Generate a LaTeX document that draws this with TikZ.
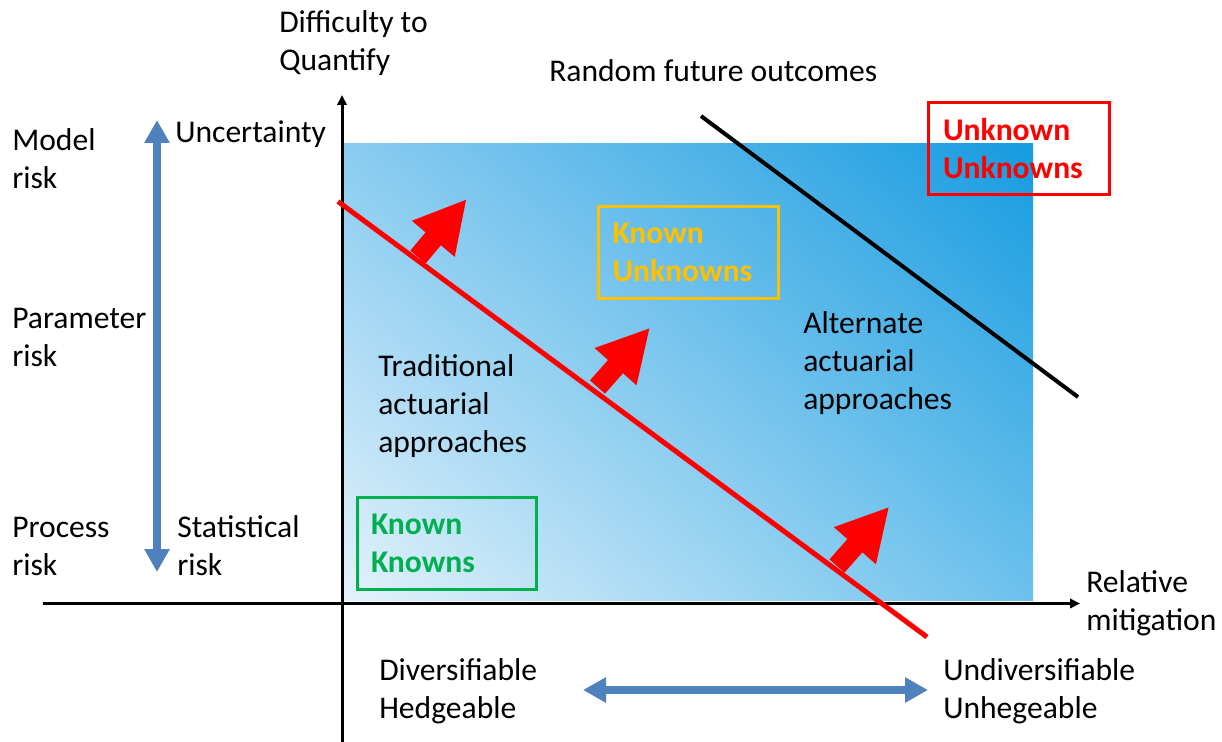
\documentclass[tikz,border=0pt]{standalone}
\usepackage{fontspec}
\setmainfont{Carlito}
\usetikzlibrary{arrows.meta,shadings}
\definecolor{axblue}{RGB}{79,129,189}
\definecolor{kgreen}{RGB}{0,176,80}
\definecolor{korange}{RGB}{255,192,0}
\definecolor{gTL}{RGB}{138,204,240}
\definecolor{gBL}{RGB}{228,242,251}
\definecolor{gTR}{RGB}{22,155,224}
\definecolor{gBR}{RGB}{108,193,236}
\begin{document}
\begin{tikzpicture}[x=0.75pt,y=-0.75pt,
  lbl/.style={anchor=west,align=left,inner sep=0pt,font=\fontsize{23.7}{28.5}\selectfont},
  kbox/.style={draw,line width=2.25pt,minimum height=69pt,align=left,inner sep=0pt,font=\fontsize{23.7}{28.5}\selectfont\bfseries},
  axis/.style={line width=2.25pt,-{Triangle[length=7.5pt,width=7pt]}},
  bluearrow/.style={axblue,line width=6pt,{Triangle[length=17.25pt,width=18pt]}-{Triangle[length=17.25pt,width=18pt]}},
  redarrow/.style={red,line width=15pt,-{Triangle[length=39pt,width=39pt]}},
  redline/.style={red,line width=3.75pt},
  blackline/.style={black,line width=3pt}]
\useasboundingbox (0,0) rectangle (1222,742);

% gradient field
\shade[upper left=gTL,lower left=gBL,upper right=gTR,lower right=gBR] (343,144) rectangle (1033,600.5);

% axes
\coordinate (yb) at (342,742);
\coordinate (yt) at (342,95);
\coordinate (xl) at (43,603.5);
\coordinate (xr) at (1080,603.5);
\draw[axis] (yb) -- (yt);
\draw[axis] (xl) -- (xr);

% red line and arrows
\coordinate (r1) at (338,201.5);
\coordinate (r2) at (927,637);
\draw[redline] (r1) -- (r2);
\coordinate (a1s) at (418,257);
\coordinate (a1e) at (466.7,199);
\coordinate (a2s) at (597.5,387);
\coordinate (a2e) at (650,327.7);
\coordinate (a3s) at (837,566);
\coordinate (a3e) at (889.3,506.7);
\draw[redarrow] (a1s) -- (a1e);
\draw[redarrow] (a2s) -- (a2e);
\draw[redarrow] (a3s) -- (a3e);

% black line
\coordinate (b1) at (701,116);
\coordinate (b2) at (1078,397);
\draw[blackline] (b1) -- (b2);

% blue arrows
\coordinate (v1) at (157,120);
\coordinate (v2) at (157,572);
\draw[bluearrow] (v2) -- (v1);
\coordinate (h1) at (583,690);
\coordinate (h2) at (928,690);
\draw[bluearrow] (h1) -- (h2);

% boxes
\node[kbox,kgreen,minimum width=134.25pt,text width=113.25pt] (kk) at (446.5,543) {Known\\Knowns};
\node[kbox,korange,minimum width=135pt,text width=113.25pt] (ku) at (688,252) {Known\\Unknowns};
\node[kbox,red,minimum width=135.75pt,minimum height=68.25pt,text width=113.25pt] (uu) at (1018.5,148.5) {Unknown\\Unknowns};

% labels
\node[lbl] (dq) at (279,43) {Difficulty to\\Quantify};
\node[lbl] (rf) at (549,71) {Random future outcomes};
\node[lbl] (mr) at (12,159) {Model\\risk};
\node[lbl] (un) at (175,134) {Uncertainty};
\node[lbl] (pr) at (12,337) {Parameter\\risk};
\node[lbl] (psr) at (12,546) {Process\\risk};
\node[lbl] (sr) at (177,546) {Statistical\\risk};
\node[lbl] (ta) at (378,406) {Traditional\\actuarial\\approaches};
\node[lbl] (aa) at (803,363) {Alternate\\actuarial\\approaches};
\node[lbl] (rm) at (1086,603) {Relative\\mitigation};
\node[lbl] (dh) at (379,691) {Diversifiable\\Hedgeable};
\node[lbl] (uh) at (943,691) {Undiversifiable\\Unhegeable};
\end{tikzpicture}
\end{document}
